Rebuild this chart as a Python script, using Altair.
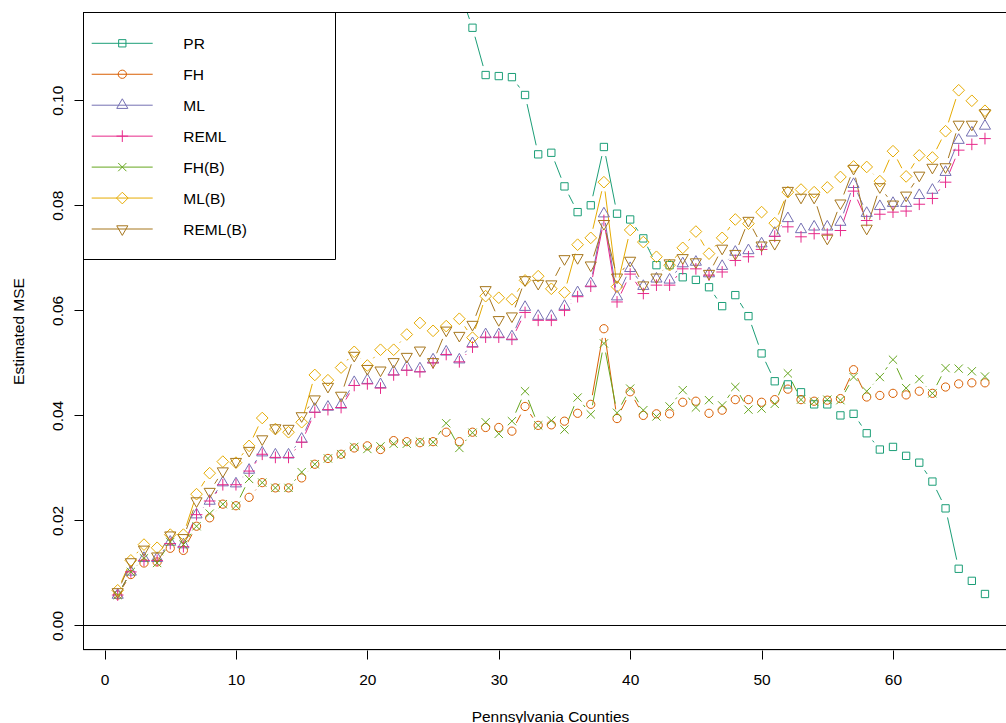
import altair as alt
import pandas as pd
import math

counties = list(range(1, 68))
series_names = ["PR", "FH", "ML", "REML", "FH(B)", "ML(B)", "REML(B)"]
colors = ["#1B9E77", "#D95F02", "#7570B3", "#E7298A", "#66A61E", "#E6AB02", "#A6761D"]

pr = [None] * 26 + [
    0.1210, 0.1138, 0.1048, 0.1046, 0.1044, 0.1010, 0.0897, 0.0900, 0.0836, 0.0787,
    0.0800, 0.0911, 0.0784, 0.0773, 0.0737, 0.0686, 0.0686, 0.0663, 0.0658, 0.0644,
    0.0608, 0.0629, 0.0589, 0.0518, 0.0465, 0.0459, 0.0444, 0.0421, 0.0421, 0.0400,
    0.0403, 0.0366, 0.0335, 0.0340, 0.0323, 0.0310, 0.0274, 0.0223, 0.0108, 0.0085,
    0.0060]

fh = [0.0058, 0.0097, 0.0119, 0.0121, 0.0147, 0.0143, 0.0189, 0.0205, 0.0231, 0.0228,
      0.0244, 0.0272, 0.0262, 0.0262, 0.0281, 0.0307, 0.0318, 0.0326, 0.0338, 0.0342,
      0.0335, 0.0352, 0.0350, 0.0348, 0.0350, 0.0368, 0.0350, 0.0368, 0.0377, 0.0377,
      0.0370, 0.0417, 0.0381, 0.0382, 0.0389, 0.0404, 0.0421, 0.0565, 0.0394, 0.0445,
      0.0400, 0.0403, 0.0403, 0.0425, 0.0427, 0.0404, 0.0410, 0.0430, 0.0430, 0.0425,
      0.0430, 0.0450, 0.0430, 0.0427, 0.0429, 0.0432, 0.0487, 0.0435, 0.0438, 0.0442,
      0.0439, 0.0446, 0.0442, 0.0454, 0.0460, 0.0462, 0.0462]

ml = [0.0058, 0.0102, 0.0128, 0.0128, 0.0159, 0.0154, 0.0211, 0.0237, 0.0272, 0.0270,
      0.0296, 0.0329, 0.0325, 0.0325, 0.0355, 0.0412, 0.0416, 0.0420, 0.0463, 0.0467,
      0.0459, 0.0483, 0.0492, 0.0489, 0.0506, 0.0521, 0.0506, 0.0537, 0.0554, 0.0554,
      0.0550, 0.0606, 0.0589, 0.0589, 0.0608, 0.0634, 0.0651, 0.0784, 0.0626, 0.0680,
      0.0646, 0.0660, 0.0658, 0.0689, 0.0692, 0.0670, 0.0684, 0.0711, 0.0714, 0.0727,
      0.0747, 0.0775, 0.0754, 0.0759, 0.0759, 0.0768, 0.0840, 0.0785, 0.0798, 0.0804,
      0.0804, 0.0819, 0.0829, 0.0863, 0.0924, 0.0938, 0.0951]

reml = [0.0058, 0.0102, 0.0124, 0.0124, 0.0156, 0.0150, 0.0211, 0.0237, 0.0268, 0.0268,
        0.0294, 0.0326, 0.0320, 0.0320, 0.0349, 0.0406, 0.0411, 0.0415, 0.0457, 0.0460,
        0.0452, 0.0477, 0.0486, 0.0483, 0.0500, 0.0516, 0.0502, 0.0530, 0.0549, 0.0549,
        0.0545, 0.0596, 0.0581, 0.0581, 0.0600, 0.0626, 0.0646, 0.0771, 0.0616, 0.0669,
        0.0632, 0.0648, 0.0648, 0.0679, 0.0679, 0.0667, 0.0673, 0.0695, 0.0702, 0.0716,
        0.0741, 0.0759, 0.0740, 0.0746, 0.0745, 0.0752, 0.0827, 0.0771, 0.0783, 0.0787,
        0.0789, 0.0802, 0.0813, 0.0844, 0.0905, 0.0916, 0.0927]

fh_b = [0.0058, 0.0102, 0.0128, 0.0119, 0.0159, 0.0154, 0.0189, 0.0213, 0.0231, 0.0228,
        0.0279, 0.0272, 0.0262, 0.0262, 0.0292, 0.0307, 0.0318, 0.0326, 0.0340, 0.0336,
        0.0341, 0.0346, 0.0346, 0.0350, 0.0349, 0.0385, 0.0338, 0.0367, 0.0387, 0.0365,
        0.0389, 0.0446, 0.0381, 0.0390, 0.0373, 0.0434, 0.0402, 0.0537, 0.0405, 0.0451,
        0.0410, 0.0398, 0.0417, 0.0448, 0.0415, 0.0429, 0.0419, 0.0454, 0.0411, 0.0413,
        0.0422, 0.0480, 0.0430, 0.0426, 0.0430, 0.0429, 0.0473, 0.0446, 0.0473, 0.0506,
        0.0452, 0.0469, 0.0442, 0.0490, 0.0489, 0.0484, 0.0474]

ml_b = [0.0067, 0.0124, 0.0154, 0.0148, 0.0173, 0.0173, 0.0250, 0.0290, 0.0312, 0.0310,
        0.0342, 0.0395, 0.0374, 0.0368, 0.0387, 0.0477, 0.0467, 0.0491, 0.0521, 0.0495,
        0.0525, 0.0525, 0.0554, 0.0576, 0.0561, 0.0570, 0.0584, 0.0548, 0.0627, 0.0624,
        0.0621, 0.0657, 0.0665, 0.0641, 0.0634, 0.0725, 0.0738, 0.0844, 0.0645, 0.0753,
        0.0730, 0.0702, 0.0686, 0.0719, 0.0750, 0.0708, 0.0738, 0.0773, 0.0765, 0.0787,
        0.0766, 0.0825, 0.0830, 0.0825, 0.0834, 0.0854, 0.0874, 0.0873, 0.0846, 0.0903,
        0.0855, 0.0895, 0.0891, 0.0941, 0.1019, 0.0999, 0.0980]

reml_b = [0.0064, 0.0121, 0.0145, 0.0132, 0.0172, 0.0167, 0.0237, 0.0255, 0.0294, 0.0312,
          0.0333, 0.0355, 0.0376, 0.0375, 0.0399, 0.0431, 0.0455, 0.0438, 0.0514, 0.0489,
          0.0486, 0.0502, 0.0512, 0.0524, 0.0502, 0.0562, 0.0552, 0.0573, 0.0639, 0.0582,
          0.0589, 0.0658, 0.0651, 0.0650, 0.0698, 0.0700, 0.0686, 0.0765, 0.0663, 0.0695,
          0.0648, 0.0663, 0.0690, 0.0700, 0.0692, 0.0670, 0.0718, 0.0708, 0.0771, 0.0724,
          0.0727, 0.0828, 0.0815, 0.0815, 0.0737, 0.0804, 0.0870, 0.0756, 0.0835, 0.0802,
          0.0819, 0.0857, 0.0872, 0.0873, 0.0954, 0.0954, 0.0976]

x_ticks = [0, 10, 20, 30, 40, 50, 60]
y_ticks = [0.0, 0.02, 0.04, 0.06, 0.08, 0.10]

W, H = 923, 638
X_DOM = [-1.64, 68.6]
Y_DOM = [-0.004665, 0.1168]
FONT = "Liberation Sans"
FS = 15.5
SYM = 68
GAP = 9.3  # R type="b" gap around each point, in pixels

# ---- build tables ----
all_series = [pr, fh, ml, reml, fh_b, ml_b, reml_b]
rows = []
for name, vals in zip(series_names, all_series):
    for c, v in zip(counties, vals):
        if v is not None:
            rows.append({"county": c, "value": v, "series": name})
df = pd.DataFrame(rows)

# line segments between successive points, shortened at both ends (R's type="b")
sx = W / (X_DOM[1] - X_DOM[0])
sy = H / (Y_DOM[1] - Y_DOM[0])
seg_rows = []
for name, vals in zip(series_names, all_series):
    for c1, c2, v1, v2 in zip(counties[:-1], counties[1:], vals[:-1], vals[1:]):
        if v1 is None or v2 is None:
            continue
        d = math.hypot((c2 - c1) * sx, (v2 - v1) * sy)
        if d <= 2 * GAP:
            continue
        f = GAP / d
        seg_rows.append({
            "series": name,
            "xa": c1 + (c2 - c1) * f, "ya": v1 + (v2 - v1) * f,
            "xb": c2 - (c2 - c1) * f, "yb": v2 - (v2 - v1) * f,
        })
seg = pd.DataFrame(seg_rows)

# R pch-like symbol outlines (unit = symbol radius)
shapes = [
    "M-0.886,-0.886L0.886,-0.886L0.886,0.886L-0.886,0.886Z",   # square
    "circle",                                                   # circle
    "M0,-1.555L1.347,0.778L-1.347,0.778Z",                      # triangle up
    "M-1.414,0L1.414,0M0,-1.414L0,1.414",                       # plus
    "M-1,-1L1,1M-1,1L1,-1",                                     # x
    "M0,-1.414L1.414,0L0,1.414L-1.414,0Z",                      # diamond
    "M0,1.555L1.347,-0.778L-1.347,-0.778Z",                     # triangle down
]

xscale = alt.Scale(domain=X_DOM, nice=False, zero=False)
yscale = alt.Scale(domain=Y_DOM, nice=False, zero=False)

xaxis = alt.Axis(values=x_ticks, title="Pennsylvania Counties", domain=False, grid=False,
                 tickSize=9, tickColor="black", labelColor="black", labelFont=FONT,
                 labelFontSize=FS, labelBaseline="alphabetic", labelPadding=25,
                 labelFlush=False, labelOverlap=False,
                 titleFont=FONT, titleFontSize=FS, titleFontWeight="normal", titleColor="black",
                 titleX=467, titleY=71, titleAlign="center", titleBaseline="alphabetic")
yaxis = alt.Axis(values=y_ticks, format=".2f", title="Estimated MSE", domain=False, grid=False,
                 tickSize=9, tickColor="black", labelColor="black", labelFont=FONT,
                 labelFontSize=FS, labelAngle=270, labelAlign="center",
                 labelBaseline="alphabetic", labelPadding=12,
                 labelFlush=False, labelOverlap=False,
                 titleFont=FONT, titleFontSize=FS, titleFontWeight="normal", titleColor="black",
                 titleAngle=270, titleX=-60, titleY=319, titleAlign="center",
                 titleBaseline="alphabetic")

color_enc = alt.Color("series:N", scale=alt.Scale(domain=series_names, range=colors), legend=None)
shape_enc = alt.Shape("series:N", scale=alt.Scale(domain=series_names, range=shapes), legend=None)

points = alt.Chart(df).mark_point(filled=False, opacity=1, strokeWidth=1, size=SYM,
                                  clip=True).encode(
    x=alt.X("county:Q", scale=xscale, axis=xaxis),
    y=alt.Y("value:Q", scale=yscale, axis=yaxis),
    color=color_enc, shape=shape_enc)

segments = alt.Chart(seg).mark_rule(strokeWidth=1, clip=True).encode(
    x=alt.X("xa:Q", scale=xscale, axis=xaxis), x2="xb:Q",
    y=alt.Y("ya:Q", scale=yscale, axis=yaxis), y2="yb:Q",
    color=color_enc)

one = pd.DataFrame({"a": [0]})
zero_line = alt.Chart(one).mark_rule(color="black", strokeWidth=1).encode(y=alt.datum(0))
frame_left = alt.Chart(one).mark_rule(color="black", strokeWidth=1).encode(
    x=alt.value(0.5), y=alt.value(0), y2=alt.value(H))
frame_top = alt.Chart(one).mark_rule(color="black", strokeWidth=1).encode(
    x=alt.value(0), x2=alt.value(W), y=alt.value(0.5))
frame_bottom = alt.Chart(one).mark_rule(color="black", strokeWidth=1).encode(
    x=alt.value(0), x2=alt.value(W), y=alt.value(H - 0.5))

# ---- manual legend (R style) ----
legend_layers = [
    alt.Chart(one).mark_rect(fillOpacity=0, stroke="black", strokeWidth=1).encode(
        x=alt.value(0.5), x2=alt.value(252.5), y=alt.value(0.5), y2=alt.value(247.5))
]
for k, (name, col, shp) in enumerate(zip(series_names, colors, shapes)):
    ry = 31.3 + 30.95 * k
    lab = pd.DataFrame({"label": [name]})
    legend_layers.append(alt.Chart(lab).mark_rule(color=col, strokeWidth=1).encode(
        x=alt.value(8.7), x2=alt.value(69.7), y=alt.value(ry)))
    legend_layers.append(alt.Chart(lab).mark_point(shape=shp, filled=False, color=col, opacity=1,
                                                   strokeWidth=1, size=SYM).encode(
        x=alt.value(39.3), y=alt.value(ry)))
    legend_layers.append(alt.Chart(lab).mark_text(align="left", baseline="middle", font=FONT,
                                                  fontSize=FS, color="black").encode(
        x=alt.value(100.3), y=alt.value(ry + 1), text="label:N"))

chart = alt.layer(segments, points, zero_line, frame_left, frame_top, frame_bottom,
                  *legend_layers).properties(
    width=W, height=H,
    autosize=alt.AutoSizeParams(type="none"),
    padding={"left": 83, "top": 12, "right": 0, "bottom": 73},
).configure_view(strokeWidth=0).configure(background="white")

chart.save("out.html", embed_options={"renderer": "svg", "actions": False})
